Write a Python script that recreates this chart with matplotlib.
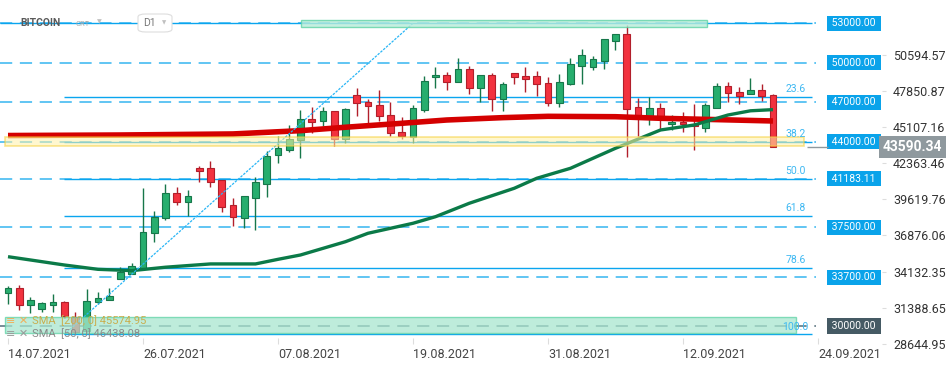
import numpy as np
import pandas as pd
import matplotlib
matplotlib.use("Agg")
import matplotlib.pyplot as plt
from matplotlib.patches import Rectangle, FancyBboxPatch

plt.rcParams['font.family'] = ['Roboto', 'DejaVu Sans']

# daily candles, 14.07.2021 - 20.09.2021
dates = pd.date_range("2021-07-14", "2021-09-20", freq="D")
opens = [32530, 32860, 31570, 31310, 31570, 31840, 30700, 29650, 31800, 31990,
         33540, 33970, 34400, 37040, 38230, 40080, 39440, 41980, 41980, 41070,
         39190, 38230, 39750, 40810, 43010, 43390, 44130, 45700, 45550, 46340,
         44180, 47550, 47000, 46790, 46030, 44740, 44380, 46410, 48900, 49070,
         48520, 49500, 48060, 49070, 47220, 49200, 49000, 48970, 48440, 46920,
         48360, 49780, 49660, 50160, 51680, 52160, 46620, 45980, 46540, 45320,
         45480, 45350, 45070, 46590, 48240, 47760, 47600, 47910, 47530]
highs = [33040, 33110, 32200, 31840, 32430, 31900, 31040, 32780, 32560, 32910,
         34460, 34760, 40480, 38730, 40810, 40560, 40310, 42180, 42510, 41070,
         39700, 39850, 41300, 43270, 44440, 45250, 46410, 46620, 46640, 46340,
         46540, 48110, 47250, 47930, 47040, 45880, 46790, 49000, 49660, 49300,
         50340, 49750, 49070, 49220, 48540, 49200, 49660, 49400, 48940, 49120,
         50390, 51070, 50510, 51780, 52160, 52870, 47300, 47420, 46920, 46030,
         46240, 46840, 46970, 48440, 48540, 48160, 48870, 48390, 47630]
lows = [31670, 31210, 31010, 31080, 31040, 30600, 29460, 29560, 31670, 31990,
        33540, 33970, 34400, 36400, 38070, 39190, 38350, 40960, 40580, 38680,
        37600, 37470, 37310, 39820, 42410, 43240, 42790, 44640, 45200, 43700,
        43880, 45980, 45450, 45600, 44460, 44180, 43880, 46260, 48110, 47950,
        48520, 47650, 47040, 46360, 46360, 48410, 47800, 47470, 46740, 46620,
        48330, 48390, 49430, 49500, 50990, 42860, 44460, 45270, 44890, 44890,
        44760, 43370, 44720, 46590, 47000, 46840, 47600, 47100, 43590.34]
closes = [32860, 31570, 31950, 31720, 31840, 30750, 29560, 31860, 32100, 32270,
          34100, 34530, 37140, 38300, 40080, 39440, 39850, 41800, 40960, 39060,
          38260, 39850, 40940, 42920, 43500, 44180, 45700, 45520, 46340, 44180,
          46490, 46920, 46690, 45930, 44640, 44410, 46540, 48610, 49070, 48560,
          49500, 48060, 49070, 47220, 48360, 48900, 48790, 48360, 46920, 48520,
          49880, 50570, 50260, 51780, 52160, 46510, 45980, 46540, 45900, 45480,
          45320, 45200, 46790, 48240, 47680, 47500, 47910, 47470, 43590.34]

# moving averages (day index, value)
sma200_days = [0, 10, 20, 26, 30, 35, 39, 44, 48, 54, 58, 62, 68]
sma200_vals = [44470, 44510, 44590, 44840, 45100, 45400, 45650, 45830, 45930,
               45900, 45780, 45700, 45574.95]
sma50_days = [0, 2, 5, 8, 11, 14, 18, 22, 24, 26, 30, 32, 36, 38, 41, 45, 47,
              50, 54, 58, 61, 64, 66, 68]
sma50_vals = [35260, 35010, 34630, 34300, 34200, 34460, 34710, 34710, 35060,
              35390, 36400, 37040, 37800, 38300, 39320, 40460, 41220, 41980,
              43500, 44890, 45270, 46030, 46350, 46438.08]

# horizontal levels and fibonacci retracement
levels = [53000, 50000, 47000, 44000, 41183.11, 37500, 33700, 30000]
fib_high, fib_low = 53000, 29350
fib_ratios = [0.236, 0.382, 0.5, 0.618, 0.786, 1.0]
fib_start, fib_end = 5, 36
last_price = 43590.34

axis_ticks = [50594.57, 47850.87, 45107.16, 42363.46, 39619.76, 36876.06,
              34132.35, 31388.65, 28644.95]
date_ticks = ["14.07.2021", "26.07.2021", "07.08.2021", "19.08.2021",
              "31.08.2021", "12.09.2021", "24.09.2021"]

fig = plt.figure(figsize=(9.5, 3.67), dpi=100)
ax = fig.add_axes([0, 23 / 367, 882 / 950, 344 / 367])
ax.set_xlim(-0.711, 77.69)
ax.set_ylim(28624, 54771)

x = np.arange(len(dates))
o = np.array(opens); h = np.array(highs); l = np.array(lows); c = np.array(closes)
up = c >= o
fill = np.where(up, '#27ae6e', '#f2323f')
edge = np.where(up, '#17774a', '#b21f2b')

ax.vlines(x, l, h, colors=edge, linewidth=1, zorder=2)
ax.bar(x, np.maximum(np.abs(c - o), 40), bottom=np.minimum(o, c), width=0.62,
       color=fill, edgecolor=edge, linewidth=0.8, zorder=3)

ax.plot(sma200_days, sma200_vals, color='#d40000', lw=4.0, solid_capstyle='butt', zorder=4)
ax.plot(sma50_days, sma50_vals, color='#0b7a48', lw=2.4, solid_capstyle='butt', zorder=4)

# dashed price levels with labels on the right
for lv in levels:
    col = '#546e7a' if lv == 30000 else '#35b5f0'
    ax.hlines(lv, -0.711, 71.8, colors=col, lw=1.1, linestyles=(0, (8, 5)), zorder=1)
    ax.text(75.2, lv, f" {lv:.2f} ", color='white', fontsize=7.5, ha='center', va='center',
            bbox=dict(boxstyle='square,pad=0.25', fc='#455a64' if lv == 30000 else '#0aa3ea', ec='none'),
            zorder=6)

# fibonacci
ax.hlines(fib_high, -0.711, 71.5, colors='#0aa5ef', lw=1.0, zorder=1)
for r in fib_ratios:
    val = fib_high - r * (fib_high - fib_low)
    ax.hlines(val, fib_start, 71.5, colors='#0aa5ef', lw=1.0, zorder=1)
    ax.annotate(f"{r * 100:.1f}", (70.0, val), xytext=(0, 2), textcoords='offset points',
                ha='center', va='bottom', fontsize=7.5, color='#3db8f2', zorder=6)
ax.plot([fib_start, fib_end], [fib_low, fib_high], color='#29b6f6', lw=0.9,
        linestyle=(0, (2, 1)), zorder=5)

# zones
ax.add_patch(Rectangle((26.05, 52740), 36.1, 510, fc='#b8ecd9', ec='#5fd3a6', lw=1, alpha=0.8, zorder=5))
ax.add_patch(Rectangle((-0.3, 29440), 70.35, 1210, fc='#a8e6cf', ec='#5fd3a6', lw=1, alpha=0.75, zorder=5))
ax.add_patch(Rectangle((-0.3, 43650), 71.1, 690, fc='#fff2a8', ec='#f5cf3a', lw=1.2, alpha=0.55, zorder=5))

# last price
ax.hlines(last_price, 71.0, 72.9, colors='#8f999e', lw=1, zorder=6)
ax.text(80.4, last_price, "43590.34", color='white', fontsize=10, fontweight='bold',
        ha='center', va='center', clip_on=False, zorder=7,
        bbox=dict(boxstyle='square,pad=0.3', fc='#8f999e', ec='none'))

# axes styling
for s in ax.spines.values():
    s.set_visible(False)
ax.yaxis.tick_right()
ax.set_yticks(axis_ticks)
ax.set_yticklabels([f"{v:.2f}" for v in axis_ticks])
ax.tick_params(axis='y', length=3, pad=5, colors='#dddddd', labelcolor='#333333', labelsize=9)

tick_pos = [(pd.to_datetime(d, format="%d.%m.%Y") - dates[0]).days for d in date_ticks]
ax.set_xticks(tick_pos)
ax.set_xticklabels(date_ticks)
ax.tick_params(axis='x', direction='in', length=4, pad=3, colors='#dddddd', labelcolor='#444444', labelsize=9)
for lbl in ax.get_xticklabels():
    lbl.set_horizontalalignment('left')

# header
fig.text(20 / 950, 1 - 23 / 367, "BITCOIN", fontsize=7.5, fontweight='bold', color='#5a5a5a', va='center')
fig.text(75 / 950, 1 - 24 / 367, "CRT", fontsize=5.5, color='#aaaaaa', va='center')
fig.text(97 / 950, 1 - 22 / 367, "▼", fontsize=4.5, color='#c0c0c0', va='center', family='DejaVu Sans')
fig.patches.append(FancyBboxPatch((138 / 950, 1 - 32 / 367), 34 / 950, 18 / 367,
                                  boxstyle='round,pad=0,rounding_size=0.008', fc='white',
                                  ec='#dddddd', lw=0.8, transform=fig.transFigure, figure=fig))
fig.text(143 / 950, 1 - 23 / 367, "D1", fontsize=7.5, color='#777777', va='center')
fig.text(162 / 950, 1 - 23 / 367, "▼", fontsize=4, color='#c0c0c0', va='center', family='DejaVu Sans')

# indicator legend
fig.text(6 / 950, 1 - 321 / 367, "≡ ✕", fontsize=8, color='#f0b05a', va='center', family='DejaVu Sans', zorder=8)
fig.text(32 / 950, 1 - 321 / 367, "SMA  [200, 0] 45574.95", fontsize=8, color='#c9ae4e', va='center', zorder=8)
fig.text(6 / 950, 1 - 334 / 367, "≡ ✕", fontsize=8, color='#9a9a9a', va='center', family='DejaVu Sans', zorder=8)
fig.text(32 / 950, 1 - 334 / 367, "SMA  [50, 0] 46438.08", fontsize=8, color='#8a8a8a', va='center', zorder=8)

fig.savefig("out.png", dpi=100)
